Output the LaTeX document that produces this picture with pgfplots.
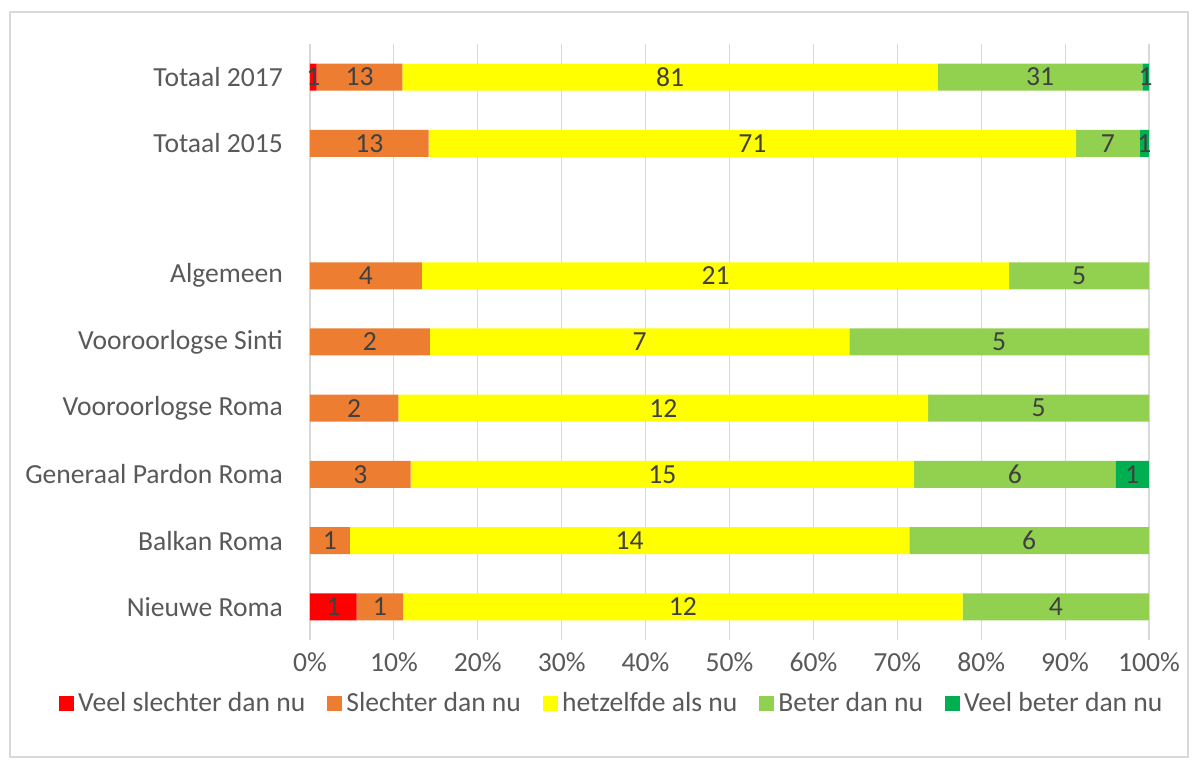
\documentclass[border=0pt]{standalone}
\usepackage{pgfplots}
\usepackage{pgfplotstable}
\pgfplotsset{compat=1.18}
\usepackage{fontspec}
\setmainfont{Carlito}
\definecolor{vs}{RGB}{255,0,0}
\definecolor{sl}{RGB}{237,125,49}
\definecolor{hz}{RGB}{255,255,0}
\definecolor{bt}{RGB}{146,208,80}
\definecolor{vb}{RGB}{0,176,80}
\definecolor{txt}{RGB}{89,89,89}
\definecolor{lbl}{RGB}{64,64,64}
\definecolor{grd}{RGB}{217,217,217}

% y  veelslechter slechter hetzelfde beter veelbeter
\pgfplotstableread{
y a  b  c  d  e
0 1  1  12 4  0
1 0  1  14 6  0
2 0  3  15 6  1
3 0  2  12 5  0
4 0  2  7  5  0
5 0  4  21 5  0
7 0  13 71 7  1
8 1  13 81 31 1
}\data

\newcommand{\tot}{(\thisrow{a}+\thisrow{b}+\thisrow{c}+\thisrow{d}+\thisrow{e})}
\newcommand{\fs}{\fontsize{13.8}{15}\selectfont}

\begin{document}
\begin{tikzpicture}[x=1pt,y=1pt]
\begin{axis}[
    scale only axis, width=419.5pt, height=298pt,
    xbar stacked, bar width=13.5pt,
    xmin=0, xmax=100, ymin=-0.5, ymax=8.5,
    clip=false,
    xtick={0,10,...,100},
    xticklabel={\pgfmathprintnumber{\tick}\%},
    ytick={0,1,2,3,4,5,7,8},
    yticklabels={Nieuwe Roma,Balkan Roma,Generaal Pardon Roma,Vooroorlogse Roma,Vooroorlogse Sinti,Algemeen,Totaal 2015,Totaal 2017},
    axis line style={draw=none},
    major tick length=0pt,
    xmajorgrids, grid style={grd, line width=0.6pt},
    tick label style={font=\fs, text=txt},
    yticklabel style={xshift=-10pt},
    xticklabel style={yshift=-3pt},
    /pgf/number format/assume math mode=true,
    point meta=explicit,
    nodes near coords={\pgfmathfloatifflags{\pgfplotspointmeta}{0}{}{\pgfmathprintnumber{\pgfplotspointmeta}}},
    every node near coord/.append style={font=\fs, text=lbl},
    legend columns=5,
    legend style={at={(0.361,-0.106)}, anchor=center, draw=none, font=\fs, text=txt,
      /tikz/every even column/.append style={column sep=9pt}},
    legend image code/.code={\fill[#1] (0pt,-3.7pt) rectangle (7.5pt,3.7pt);},
]
\addplot[fill=vs, draw=none] table[x expr=\thisrow{a}/\tot*100, y=y, meta=a] {\data};
\addplot[fill=sl, draw=none] table[x expr=\thisrow{b}/\tot*100, y=y, meta=b] {\data};
\addplot[fill=hz, draw=none] table[x expr=\thisrow{c}/\tot*100, y=y, meta=c] {\data};
\addplot[fill=bt, draw=none] table[x expr=\thisrow{d}/\tot*100, y=y, meta=d] {\data};
\addplot[fill=vb, draw=none] table[x expr=\thisrow{e}/\tot*100, y=y, meta=e] {\data};
\legend{Veel slechter dan nu, Slechter dan nu, hetzelfde als nu, Beter dan nu, Veel beter dan nu}
\end{axis}
% outer frame (chart area border) and page extent
\path (-155pt,-64.5pt) rectangle (445pt,320pt);
\draw[grd, line width=1pt] (-150pt,-58.5pt) rectangle (439pt,314pt);
\end{tikzpicture}
\end{document}
